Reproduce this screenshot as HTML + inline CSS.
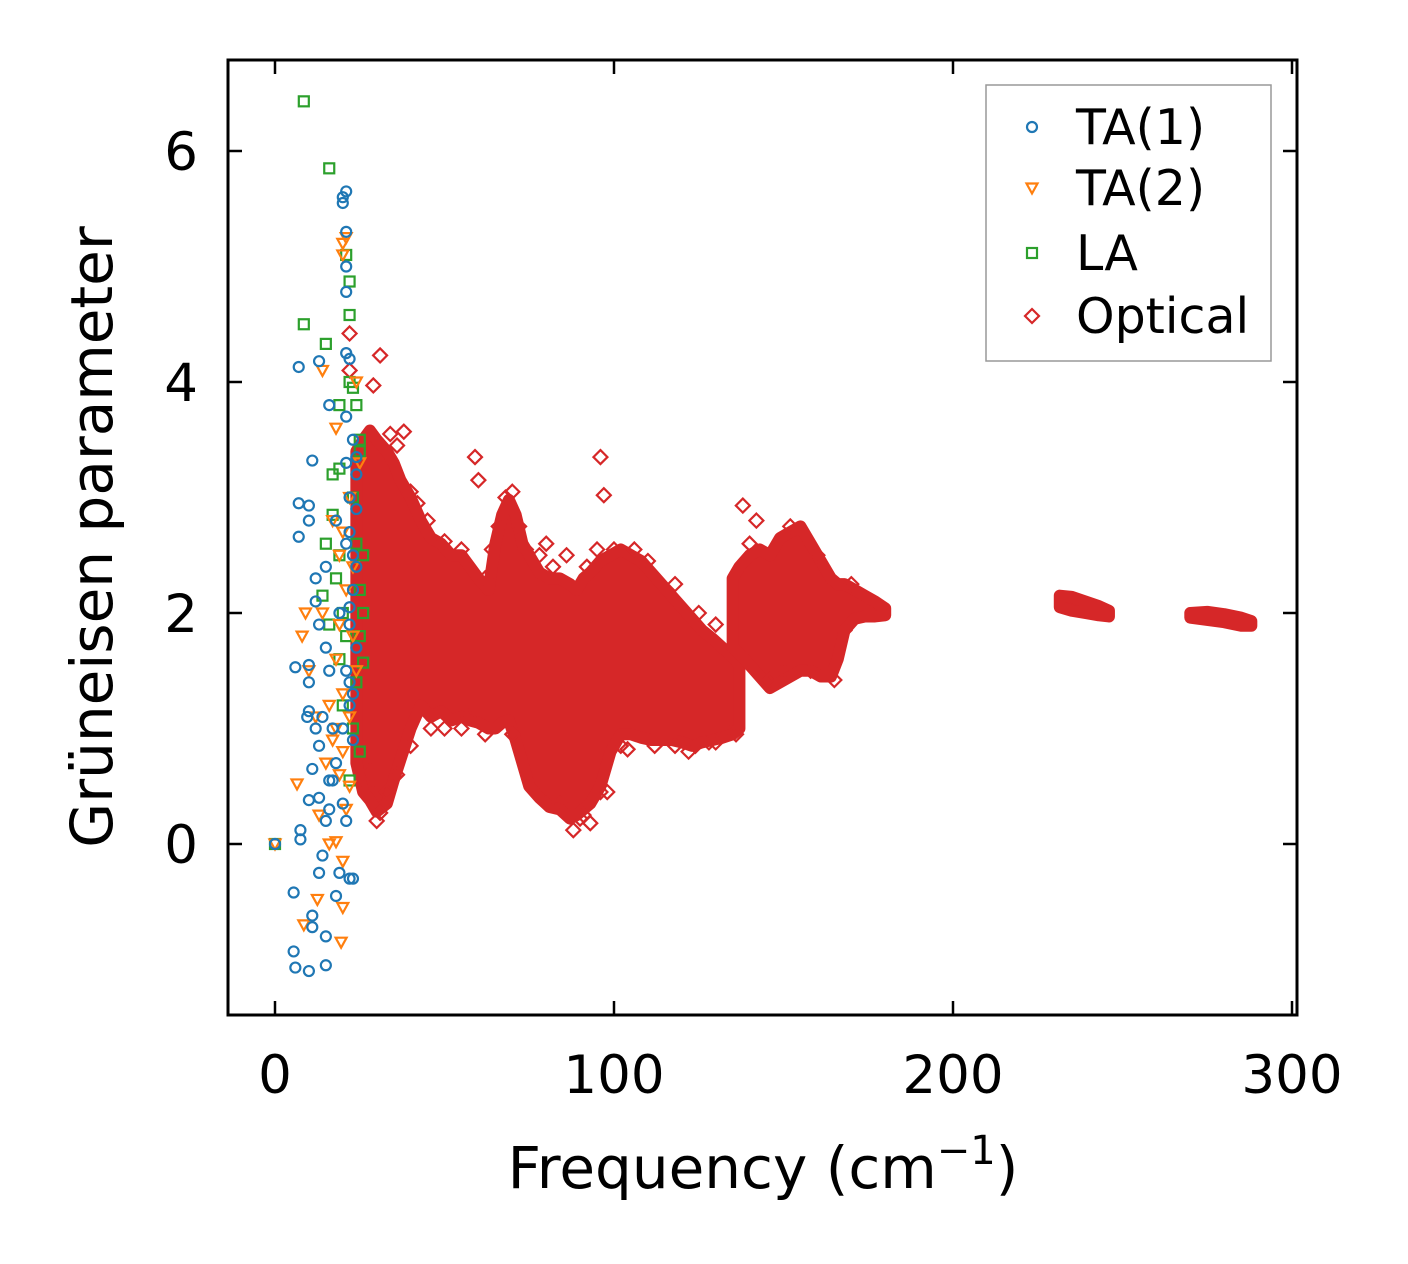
<!DOCTYPE html>
<html><head><meta charset="utf-8">
<style>
html,body{margin:0;padding:0;background:#fff;}
svg{display:block;font-family:"DejaVu Sans","Liberation Sans",sans-serif;}
</style></head>
<body>
<svg id="chart" width="1408" height="1264" viewBox="0 0 1408 1264" xmlns="http://www.w3.org/2000/svg">
<rect width="1408" height="1264" fill="#fff"/>
<g id="plot"></g>
<rect x="228" y="60" width="1069" height="955" fill="none" stroke="#000" stroke-width="3"/>
<g id="axes"></g>
<text x="763" y="1188" font-size="58" text-anchor="middle">Frequency (cm<tspan dy="-24" font-size="40">−1</tspan><tspan dy="24">)</tspan></text>
<text transform="translate(112,537) rotate(-90)" font-size="58" text-anchor="middle">Grüneisen parameter</text>
<g>
<rect x="986" y="85" width="285" height="276" fill="#fff" fill-opacity="0.8" stroke="#999" stroke-width="1.5"/>
<g id="legend-items"></g>
</g>
</svg>
<script>
const xTicks=[0,100,200,300];
const yTicks=[0,2,4,6];
const ta1=[[0,0],[5.5,-0.93],[6,-1.07],[5.5,-0.42],[7.5,0.04],[7.5,0.12],[10,-1.1],[11,-0.62],[11,-0.72],[15,-1.05],[15,-0.8],[14,-0.1],[15,0.2],[13,0.4],[10,0.38],[13,-0.25],[9.5,1.1],[10,1.4],[10,1.55],[6,1.53],[7,2.95],[7,2.66],[10,2.8],[10,2.93],[11,3.32],[7,4.13],[13,4.18],[16,3.8],[20,5.6],[20,5.55],[21,5.3],[21,4.78],[21,4.25],[21,5.0],[12,2.3],[15,2.4],[15,1.7],[16,1.5],[17,1.0],[18,0.7],[17,0.55],[20,0.35],[21,0.2],[19,-0.25],[22,-0.3],[23,-0.3],[18,-0.45],[21,3.7],[21,3.3],[22,3.0],[22,2.7],[23,2.5],[23,2.2],[22,1.9],[21,1.5],[22,1.2],[23,0.9],[24,3.35],[24,3.2],[13,1.9],[14,1.1],[12,1.0],[13,0.85],[11,0.65],[16,0.3],[18,2.8],[19,2.0],[10,1.15],[12,2.1],[16,0.55],[20,1.0],[22,1.4],[21,5.65],[22,4.2],[23,3.5],[24,2.9],[24,2.4],[24,1.7],[23,1.3],[22,2.05],[21,2.6]];
const ta2=[[0,0],[6.5,0.52],[8.5,-0.7],[12.5,-0.48],[19.5,-0.85],[20,-0.55],[20,-0.15],[16,0],[18,0.02],[13,0.25],[8,1.8],[10,1.5],[9,2.0],[14,4.1],[18,3.6],[20,5.2],[20,5.1],[21,5.25],[17,2.8],[19,2.5],[22,3.0],[16,1.2],[18,1.0],[20,0.8],[22,0.5],[15,0.7],[21,2.2],[23,1.8],[24,1.5],[25,3.3],[24,4.0],[12,1.1],[14,2.0],[20,1.3],[17,0.9],[19,0.6],[18,1.6],[19,1.9],[20,2.7],[22,1.1],[23,2.4],[21,0.3]];
const la=[[0,0],[8.5,6.43],[16,5.85],[8.5,4.5],[21,5.1],[22,4.87],[22,4.58],[15,4.33],[22,4.0],[23,3.95],[19,3.8],[17,3.2],[19,3.25],[25,3.5],[25,3.4],[26,2.5],[26,2.0],[26,1.57],[25,0.8],[22,0.55],[14,2.15],[15,2.6],[17,2.85],[18,2.3],[20,2.0],[21,1.8],[19,1.6],[20,1.2],[23,1.0],[24,2.6],[25,2.2],[16,1.9],[19,2.5],[24,1.4],[25,1.8],[23,3.0],[24,3.8]];
const bandA=[[24,0.7,3.4],[26,0.45,3.5],[28,0.38,3.58],[30,0.28,3.5],[33,0.35,3.4],[35,0.55,3.3],[37,0.73,3.15],[40,1.0,3.0],[43,1.2,2.8],[46,1.1,2.65],[49,1.15,2.6],[52,1.07,2.5],[55,1.1,2.5],[57.5,1.07,2.4],[60,1.05,2.3],[63,1.0,2.2],[65,1.0,2.6],[67,1.05,2.85],[69,1.07,2.98],[71,0.9,2.85],[73,0.7,2.6],[75,0.5,2.5],[78,0.4,2.35],[81,0.32,2.3],[84,0.3,2.3],[87,0.22,2.25],[89,0.25,2.2],[91,0.3,2.3],[93,0.35,2.35],[96,0.5,2.45],[99,0.8,2.5],[102,0.95,2.55],[105,0.95,2.5],[108,0.92,2.45],[111,0.9,2.35],[114,0.9,2.25],[117,0.9,2.15],[120,0.88,2.05],[123,0.85,1.95],[126,0.88,1.85],[129,0.9,1.78],[132,0.92,1.7],[135,0.95,1.62],[137,1.0,1.55]];
const bandB=[[135,1.7,2.3],[137,1.65,2.4],[140,1.55,2.5],[143,1.45,2.55],[146,1.35,2.5],[149,1.4,2.65],[152,1.45,2.7],[155,1.5,2.75],[158,1.5,2.6],[161,1.45,2.45],[164,1.45,2.3],[166,1.6,2.25],[168,1.85,2.25],[171,1.95,2.2],[174,1.97,2.15],[177,1.97,2.1],[180,1.98,2.04]];
const bandC=[[231.5,2.05,2.15],[235,2.02,2.14],[239,2.0,2.1],[243,1.98,2.06],[246,1.97,2.02]];
const bandD=[[270,1.96,2.0],[275,1.94,2.01],[280,1.92,1.99],[285,1.89,1.96],[288,1.89,1.93]];
const optical=[[31,4.23],[29,3.97],[22,4.42],[22,4.1],[38,3.57],[59,3.35],[96,3.35],[97,3.02],[40,3.05],[60,3.15],[70,3.05],[80,2.6],[74,2.55],[92,2.4],[50,2.62],[104,0.82],[88,0.12],[93,0.18],[98,0.45],[30,0.2],[31,0.27],[36,0.6],[122,0.8],[138,2.93],[142,2.8],[165,1.42],[162,1.5],[57,1.1],[46,1.0],[84,0.35],[91,0.25],[76,0.5],[152,2.75],[134,0.98],[128,0.88],[34,3.55],[36,3.45],[42,2.95],[45,2.8],[55,2.55],[62,2.3],[64,2.55],[66,2.75],[68,3.0],[72,2.75],[78,2.5],[82,2.4],[86,2.5],[95,2.55],[100,2.55],[106,2.55],[110,2.45],[118,2.25],[125,2.0],[130,1.9],[146,1.42],[150,1.5],[158,1.5],[168,1.85],[170,2.25],[160,2.5],[140,2.6],[33,0.45],[40,0.85],[50,1.0],[55,1.0],[62,0.95],[70,0.95],[80,0.35],[90,0.22],[96,0.45],[102,0.85],[112,0.85],[118,0.85],[124,0.85],[130,0.88],[136,0.95],[27,0.5],[26,0.7]];

const NS='http://www.w3.org/2000/svg';
const X=f=>275+f*3.39;
const Y=g=>844-g*115.5;
const plot=document.getElementById('plot');
const axes=document.getElementById('axes');
function mk(tag,attrs,parent){const e=document.createElementNS(NS,tag);for(const k in attrs)e.setAttribute(k,attrs[k]);parent.appendChild(e);return e;}
const BLUE='#1f77b4',ORANGE='#ff7f0e',GREEN='#2ca02c',RED='#d62728';
function marker(kind,cx,cy,color,parent){
  let e;
  if(kind==='o') e=mk('circle',{cx:cx,cy:cy,r:5,fill:'none',stroke:color,'stroke-width':2.2},parent);
  else if(kind==='v') e=mk('polygon',{points:`${cx-5.5},${cy-4.5} ${cx+5.5},${cy-4.5} ${cx},${cy+5.5}`,fill:'none',stroke:color,'stroke-width':2.2},parent);
  else if(kind==='s') e=mk('rect',{x:cx-5,y:cy-5,width:10,height:10,fill:'none',stroke:color,'stroke-width':2.2},parent);
  else e=mk('polygon',{points:`${cx},${cy-7} ${cx+7},${cy} ${cx},${cy+7} ${cx-7},${cy}`,fill:'none',stroke:color,'stroke-width':2.2},parent);
  return e;
}
function band(arr,name){
  const top=arr.map(d=>`${X(d[0])},${Y(d[2])}`);
  const bot=arr.slice().reverse().map(d=>`${X(d[0])},${Y(d[1])}`);
  const p=mk('polygon',{points:top.concat(bot).join(' '),fill:RED,stroke:RED,'stroke-width':12,'stroke-linejoin':'round'},plot);
  
  
}
band(bandA,'optical-band-a');band(bandB,'optical-band-b');band(bandC,'optical-band-c');band(bandD,'optical-band-d');
optical.forEach(d=>{const e=marker('d',X(d[0]),Y(d[1]),RED,plot);
  
  });
la.forEach(d=>{const e=marker('s',X(d[0]),Y(d[1]),GREEN,plot);
  
  });
ta2.forEach(d=>{const e=marker('v',X(d[0]),Y(d[1]),ORANGE,plot);
  
  });
ta1.forEach(d=>{const e=marker('o',X(d[0]),Y(d[1]),BLUE,plot);
  
  });

xTicks.forEach(t=>{const x=X(t);
  mk('line',{x1:x,y1:1015,x2:x,y2:1001,stroke:'#000','stroke-width':2.5},axes);
  mk('line',{x1:x,y1:60,x2:x,y2:74,stroke:'#000','stroke-width':2.5},axes);
  const l=mk('text',{x:x,y:1093,'font-size':53,'text-anchor':'middle'},axes);l.textContent=t;
  
  });
yTicks.forEach(t=>{const y=Y(t);
  mk('line',{x1:228,y1:y,x2:242,y2:y,stroke:'#000','stroke-width':2.5},axes);
  mk('line',{x1:1297,y1:y,x2:1283,y2:y,stroke:'#000','stroke-width':2.5},axes);
  const l=mk('text',{x:198,y:y+19,'font-size':53,'text-anchor':'end'},axes);l.textContent=t;
  
  });

const li=document.getElementById('legend-items');
[['o','TA(1)',BLUE,127],['v','TA(2)',ORANGE,188],['s','LA',GREEN,253],['d','Optical',RED,316]].forEach(a=>{
  const g=mk('g',{},li);
  
  
  marker(a[0],1032,a[3],a[2],g);
  const t=mk('text',{x:1076,y:a[3]+17,'font-size':49},g);t.textContent=a[1];
});
</script>
</body></html>
